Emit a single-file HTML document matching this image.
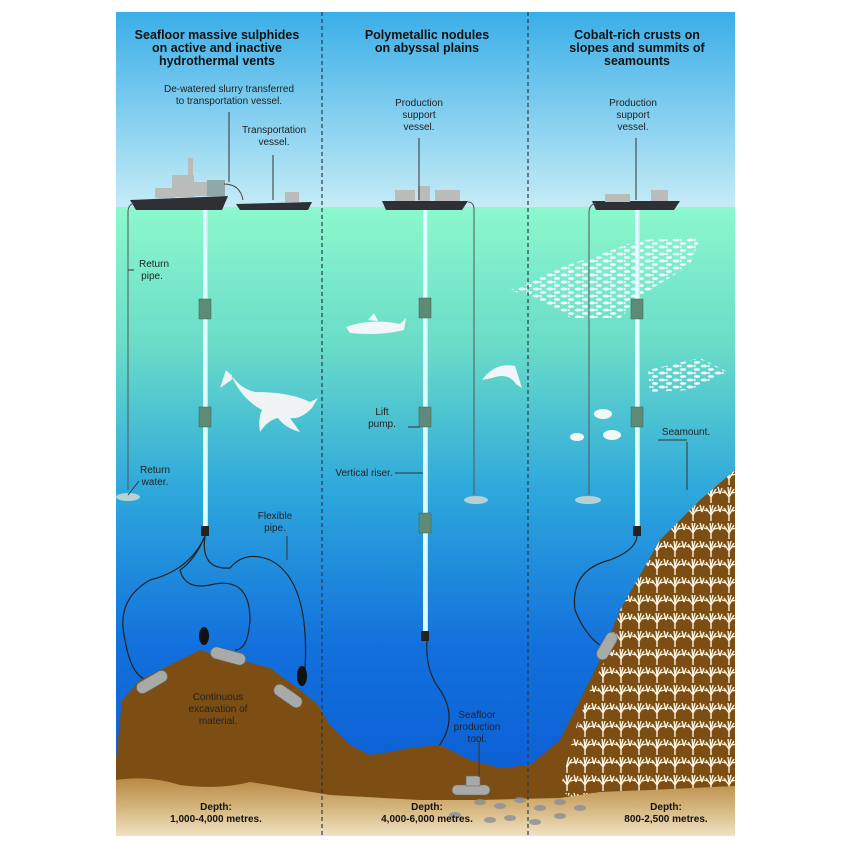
<!DOCTYPE html>
<html><head><meta charset="utf-8"><style>
html,body{margin:0;padding:0;background:#fff;}
svg{display:block;}
text{font-family:"Liberation Sans",sans-serif;}
.t{font-weight:bold;font-size:12.5px;fill:#111;text-anchor:middle;}
.l{font-size:10px;fill:#222;text-anchor:middle;}
.d{font-weight:bold;font-size:10px;fill:#111;text-anchor:middle;}
</style></head><body>
<svg width="850" height="854" viewBox="0 0 850 854" xmlns="http://www.w3.org/2000/svg">
<defs>
<linearGradient id="sky" x1="0" y1="0" x2="0" y2="1">
<stop offset="0" stop-color="#3aaee8"/><stop offset="1" stop-color="#c6ecf6"/></linearGradient>
<linearGradient id="sea" x1="0" y1="0" x2="0" y2="1">
<stop offset="0" stop-color="#8cf8cc"/><stop offset="0.22" stop-color="#6adcc8"/>
<stop offset="0.45" stop-color="#2ea8dc"/><stop offset="0.7" stop-color="#1270dc"/>
<stop offset="1" stop-color="#0a58d2"/></linearGradient>
<linearGradient id="sand" x1="0" y1="0" x2="0" y2="1">
<stop offset="0" stop-color="#b88a45"/><stop offset="0.5" stop-color="#d4b47c"/><stop offset="1" stop-color="#f0e2c4"/></linearGradient>
<linearGradient id="riser" x1="0" y1="0" x2="1" y2="0">
<stop offset="0" stop-color="#bff"/><stop offset="0.5" stop-color="#fff"/><stop offset="1" stop-color="#9ee"/></linearGradient>
<pattern id="fish" width="14" height="7" patternUnits="userSpaceOnUse">
<ellipse cx="4" cy="2" rx="3.4" ry="1.5" fill="#f4fbff"/><path d="M7,2 l2.5,-1.6 v3.2z" fill="#f4fbff"/>
<ellipse cx="11" cy="5.5" rx="3.2" ry="1.4" fill="#f4fbff"/></pattern>
<pattern id="coral" width="18" height="18" patternUnits="userSpaceOnUse">
<g stroke="#fff4e0" stroke-width="1.4" fill="none">
<path d="M9,17 V9 M9,11 L4,4 M9,11 L14,3 M9,9 L8,1 M9,9 L11,1 M6,7 L2,6 M12,7 L17,6"/>
<path d="M0,8 L-2,1 M0,8 L2,2 M18,8 L16,1 M18,8 L20,2"/></g></pattern>
<clipPath id="panel"><rect x="116" y="12" width="619" height="824"/></clipPath>
</defs>
<g clip-path="url(#panel)">
<rect x="116" y="12" width="619" height="196" fill="url(#sky)"/>
<rect x="116" y="207" width="619" height="629" fill="url(#sea)"/>

<path d="M510,290 L560,268 L640,240 L700,238 L690,265 L650,290 L620,318 L570,318 L540,300 Z" fill="url(#fish)"/>
<path d="M648,370 L700,358 L728,372 L690,390 L650,392 Z" fill="url(#fish)"/>
<g fill="#f2f8f8"><ellipse cx="603" cy="414" rx="9" ry="5"/><ellipse cx="612" cy="435" rx="9" ry="5"/><ellipse cx="577" cy="437" rx="7" ry="4"/></g>
<path d="M346,327 Q370,318 400,324 L406,318 L404,330 Q380,336 350,333 Z M368,320 L374,313 L378,321Z" fill="#f0f6fa"/>
<path d="M482,380 Q495,362 515,366 L522,388 L516,384 Q508,372 492,378 Z" fill="#f0f6fa"/>
<path d="M230,372 Q238,388 255,392 Q290,392 310,402 L318,398 L312,408 Q300,420 290,418 L300,432 Q285,428 278,418 Q268,420 260,432 Q258,418 262,410 Q240,398 230,372Z M226,370 L220,388 L234,378Z" fill="#eef4f4"/>

<g fill="#2e3036">
<path d="M130,200 L228,196 L222,210 L136,210Z"/>
<path d="M236,204 L312,202 L308,210 L240,210Z"/>
<path d="M382,201 L468,201 L462,210 L386,210Z"/>
<path d="M592,201 L680,201 L674,210 L596,210Z"/>
</g>
<g fill="#b9bcb8">
<rect x="172" y="175" width="22" height="22"/><rect x="155" y="188" width="20" height="10"/><rect x="188" y="158" width="5" height="18"/>
<rect x="194" y="182" width="14" height="14"/><rect x="207" y="180" width="18" height="16" fill="#8fa8a8"/>
<rect x="285" y="192" width="14" height="10"/><rect x="395" y="190" width="20" height="11"/><rect x="418" y="186" width="12" height="15"/>
<rect x="435" y="190" width="25" height="11"/><rect x="605" y="194" width="25" height="8"/><rect x="651" y="190" width="17" height="11"/>
</g>
<path d="M224,184 Q240,184 243,200" fill="none" stroke="#444" stroke-width="1"/>

<rect x="203" y="210" width="5" height="318" fill="url(#riser)"/>
<rect x="423" y="210" width="5" height="423" fill="url(#riser)"/>
<rect x="635" y="210" width="5" height="316" fill="url(#riser)"/>
<g fill="#5e8a78" stroke="#3f6050" stroke-width="0.5">
<rect x="199" y="299" width="12" height="20"/><rect x="199" y="407" width="12" height="20"/>
<rect x="419" y="298" width="12" height="20"/><rect x="419" y="407" width="12" height="20"/><rect x="419" y="513" width="12" height="20"/>
<rect x="631" y="299" width="12" height="20"/><rect x="631" y="407" width="12" height="20"/>
</g>
<g fill="#222"><rect x="201" y="526" width="8" height="10"/><rect x="421" y="631" width="8" height="10"/><rect x="633" y="526" width="8" height="10"/></g>

<g fill="none" stroke="#555" stroke-width="1">
<path d="M134,203 Q128,205 128,212 V490"/>
<path d="M468,202 Q474,202 474,210 V495"/>
<path d="M596,203 Q589,205 589,212 V495"/>
</g>
<g fill="#b8d0d4"><ellipse cx="128" cy="497" rx="12" ry="4"/><ellipse cx="476" cy="500" rx="12" ry="4"/><ellipse cx="588" cy="500" rx="13" ry="4"/></g>

<g fill="none" stroke="#222" stroke-width="1.2">
<path d="M205,536 Q190,570 150,580 Q115,600 125,640 Q132,680 150,680"/>
<path d="M205,536 Q195,560 180,570 Q185,590 210,585 Q250,575 250,620 Q248,650 235,650"/>
<path d="M205,536 Q200,570 230,568 Q245,550 270,560 Q310,580 305,670"/>
<path d="M427,641 Q425,670 440,690 Q460,720 436,750 Q440,770 470,780"/>
<path d="M637,536 Q636,550 610,560 Q570,570 575,610 Q585,635 600,645"/>
</g>

<path d="M116,760 L122,700 L140,680 L170,665 L200,650 L215,655 L240,660 L270,668 L300,690 L318,705 L330,725 L350,745 L370,755 L390,752 L410,748 L440,745 L470,760 L500,768 L530,765 L560,740 L580,700 L600,660 L620,610 L660,540 L700,500 L735,470 L735,836 L116,836Z" fill="#7d4e14"/>
<path d="M560,790 L575,730 L590,690 L605,660 L620,610 L660,540 L700,500 L735,470 L735,800 L575,800Z" fill="url(#coral)"/>
<path d="M116,780 Q150,775 180,785 Q220,790 250,782 Q300,790 330,795 L420,800 L480,800 L560,798 L600,792 L650,790 L735,786 L735,836 L116,836Z" fill="url(#sand)"/>
<g fill="#8a8f98" opacity="0.8">
<ellipse cx="480" cy="802" rx="6" ry="3"/><ellipse cx="500" cy="806" rx="6" ry="3"/><ellipse cx="520" cy="800" rx="6" ry="3"/><ellipse cx="540" cy="808" rx="6" ry="3"/><ellipse cx="560" cy="802" rx="6" ry="3"/><ellipse cx="510" cy="818" rx="6" ry="3"/><ellipse cx="535" cy="822" rx="6" ry="3"/><ellipse cx="560" cy="816" rx="6" ry="3"/><ellipse cx="490" cy="820" rx="6" ry="3"/><ellipse cx="455" cy="815" rx="6" ry="3"/><ellipse cx="580" cy="808" rx="6" ry="3"/>
</g>
<g fill="#a8aaa8" stroke="#666" stroke-width="0.6">
<rect x="135" y="676" width="34" height="12" rx="6" transform="rotate(-30 152 682)"/>
<rect x="210" y="650" width="36" height="12" rx="6" transform="rotate(15 228 656)"/>
<rect x="272" y="690" width="32" height="12" rx="6" transform="rotate(35 288 696)"/>
<rect x="452" y="785" width="38" height="10" rx="5"/><rect x="466" y="776" width="14" height="10"/>
<rect x="592" y="640" width="30" height="12" rx="6" transform="rotate(-60 607 646)"/>
</g>
<g fill="#111"><ellipse cx="204" cy="636" rx="5" ry="9"/><ellipse cx="302" cy="676" rx="5" ry="10"/></g>
</g>

<g stroke="#2a3a4a" stroke-width="1.2" stroke-dasharray="4,3">
<line x1="322" y1="12" x2="322" y2="836"/><line x1="528" y1="12" x2="528" y2="836"/></g>

<g stroke="#333" stroke-width="1">
<line x1="229" y1="112" x2="229" y2="182"/><line x1="273" y1="155" x2="273" y2="200"/>
<line x1="419" y1="138" x2="419" y2="200"/><line x1="636" y1="138" x2="636" y2="200"/>
<line x1="128" y1="270" x2="134" y2="270"/><line x1="139" y1="481" x2="128" y2="495"/>
<line x1="408" y1="427" x2="420" y2="427"/><line x1="395" y1="473" x2="423" y2="473"/>
<line x1="287" y1="536" x2="287" y2="560"/><line x1="479" y1="741" x2="479" y2="777"/>
<line x1="687" y1="442" x2="687" y2="490"/><line x1="658" y1="440" x2="687" y2="440"/>
</g>

<text class="t" x="217" y="39">Seafloor massive sulphides</text>
<text class="t" x="217" y="52">on active and inactive</text>
<text class="t" x="217" y="65">hydrothermal vents</text>
<text class="t" x="427" y="39">Polymetallic nodules</text>
<text class="t" x="427" y="52">on abyssal plains</text>
<text class="t" x="637" y="39">Cobalt-rich crusts on</text>
<text class="t" x="637" y="52">slopes and summits of</text>
<text class="t" x="637" y="65">seamounts</text>

<text class="l" x="229" y="92">De-watered slurry transferred</text>
<text class="l" x="229" y="104">to transportation vessel.</text>
<text class="l" x="274" y="133">Transportation</text>
<text class="l" x="274" y="145">vessel.</text>
<text class="l" x="419" y="106">Production</text>
<text class="l" x="419" y="118">support</text>
<text class="l" x="419" y="130">vessel.</text>
<text class="l" x="633" y="106">Production</text>
<text class="l" x="633" y="118">support</text>
<text class="l" x="633" y="130">vessel.</text>
<text class="l" x="154" y="267">Return</text>
<text class="l" x="152" y="279">pipe.</text>
<text class="l" x="155" y="473">Return</text>
<text class="l" x="155" y="485">water.</text>
<text class="l" x="382" y="415">Lift</text>
<text class="l" x="382" y="427">pump.</text>
<text class="l" x="364" y="476">Vertical riser.</text>
<text class="l" x="275" y="519">Flexible</text>
<text class="l" x="275" y="531">pipe.</text>
<text class="l" x="686" y="435">Seamount.</text>
<text class="l" x="218" y="700">Continuous</text>
<text class="l" x="218" y="712">excavation of</text>
<text class="l" x="218" y="724">material.</text>
<text class="l" x="477" y="718">Seafloor</text>
<text class="l" x="477" y="730">production</text>
<text class="l" x="477" y="742">tool.</text>

<text class="d" x="216" y="810">Depth:</text>
<text class="d" x="216" y="822">1,000-4,000 metres.</text>
<text class="d" x="427" y="810">Depth:</text>
<text class="d" x="427" y="822">4,000-6,000 metres.</text>
<text class="d" x="666" y="810">Depth:</text>
<text class="d" x="666" y="822">800-2,500 metres.</text>
</svg>
</body></html>
